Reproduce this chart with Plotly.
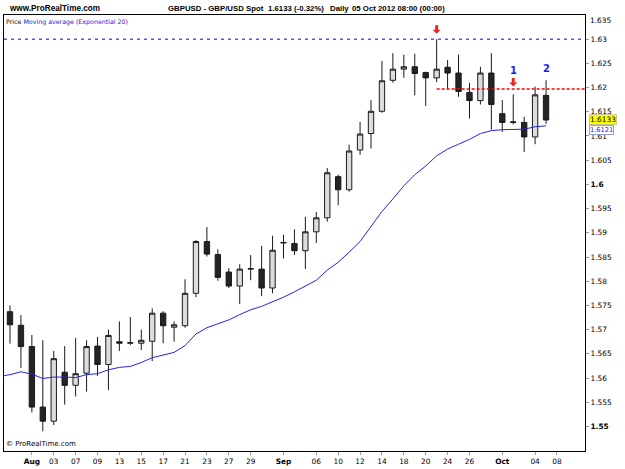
import plotly.graph_objects as go

# ---------------- data ----------------
dates = [
    "2012-07-30", "2012-07-31", "2012-08-01", "2012-08-02", "2012-08-03",
    "2012-08-06", "2012-08-07", "2012-08-08", "2012-08-09", "2012-08-10",
    "2012-08-13", "2012-08-14", "2012-08-15", "2012-08-16", "2012-08-17",
    "2012-08-20", "2012-08-21", "2012-08-22", "2012-08-23", "2012-08-24",
    "2012-08-27", "2012-08-28", "2012-08-29", "2012-08-30", "2012-08-31",
    "2012-09-03", "2012-09-04", "2012-09-05", "2012-09-06", "2012-09-07",
    "2012-09-10", "2012-09-11", "2012-09-12", "2012-09-13", "2012-09-14",
    "2012-09-17", "2012-09-18", "2012-09-19", "2012-09-20", "2012-09-21",
    "2012-09-24", "2012-09-25", "2012-09-26", "2012-09-27", "2012-09-28",
    "2012-10-01", "2012-10-02", "2012-10-03", "2012-10-04", "2012-10-05",
]
lead_dates = ["2012-07-27"]
trail_dates = ["2012-10-08", "2012-10-09", "2012-10-10"]

open_ = [1.5737, 1.5709, 1.5665, 1.5540, 1.5511, 1.5612, 1.5585, 1.5610, 1.5666, 1.5628,
         1.5675, 1.5672, 1.5672, 1.5676, 1.5734, 1.5705, 1.5708, 1.5775, 1.5882, 1.5855,
         1.5819, 1.5790, 1.5825, 1.5825, 1.5786, 1.5879, 1.5878, 1.5863, 1.5902, 1.5931,
         1.6016, 1.5989, 1.6071, 1.6105, 1.6151, 1.6215, 1.6238, 1.6243, 1.6231, 1.6220,
         1.6242, 1.6230, 1.6190, 1.6173, 1.6230, 1.6146, 1.6128, 1.6128, 1.6098, 1.6184]
high = [1.5750, 1.5730, 1.5689, 1.5678, 1.5656, 1.5666, 1.5683, 1.5678, 1.5685, 1.5700,
        1.5717, 1.5726, 1.5700, 1.5744, 1.5738, 1.5717, 1.5804, 1.5885, 1.5912, 1.5866,
        1.5827, 1.5835, 1.5854, 1.5873, 1.5894, 1.5896, 1.5907, 1.5933, 1.5943, 1.6034,
        1.6020, 1.6082, 1.6129, 1.6174, 1.6255, 1.6271, 1.6268, 1.6270, 1.6233, 1.6300,
        1.6257, 1.6268, 1.6210, 1.6243, 1.6271, 1.6174, 1.6186, 1.6140, 1.6202, 1.6215]
low = [1.5671, 1.5621, 1.5529, 1.5490, 1.5503, 1.5545, 1.5562, 1.5572, 1.5604, 1.5575,
       1.5656, 1.5668, 1.5658, 1.5635, 1.5672, 1.5675, 1.5704, 1.5767, 1.5851, 1.5801,
       1.5786, 1.5753, 1.5802, 1.5769, 1.5775, 1.5847, 1.5854, 1.5825, 1.5879, 1.5923,
       1.5957, 1.5985, 1.6061, 1.6074, 1.6148, 1.6210, 1.6220, 1.6184, 1.6162, 1.6211,
       1.6196, 1.6181, 1.6136, 1.6165, 1.6113, 1.6108, 1.6124, 1.6067, 1.6083, 1.6125]
close = [1.5710, 1.5665, 1.5540, 1.5511, 1.5640, 1.5585, 1.5609, 1.5665, 1.5628, 1.5688,
         1.5672, 1.5673, 1.5678, 1.5734, 1.5708, 1.5710, 1.5775, 1.5882, 1.5856, 1.5808,
         1.5790, 1.5825, 1.5826, 1.5786, 1.5864, 1.5880, 1.5863, 1.5902, 1.5931, 1.6024,
         1.5989, 1.6069, 1.6104, 1.6151, 1.6214, 1.6238, 1.6243, 1.6229, 1.6220, 1.6238,
         1.6230, 1.6192, 1.6173, 1.6230, 1.6165, 1.6128, 1.6129, 1.6098, 1.6185, 1.6133]

# EMA(20) (first value belongs to 2012-07-27)
ema20 = [1.5603,
         1.5607, 1.5613, 1.5608, 1.5599, 1.5602, 1.5602, 1.5601, 1.5607, 1.5609, 1.5617,
         1.5622, 1.5624, 1.5632, 1.5642, 1.5647, 1.5653, 1.5667, 1.5691, 1.5704, 1.5712,
         1.5720, 1.5731, 1.5741, 1.5748, 1.5757, 1.5767, 1.5778, 1.5790, 1.5802, 1.5823,
         1.5839, 1.5860, 1.5882, 1.5913, 1.5944, 1.5970, 1.5997, 1.6020, 1.6038, 1.6059,
         1.6073, 1.6083, 1.6093, 1.6105, 1.6111, 1.6113, 1.6113, 1.6114, 1.6119, 1.6121]

x_tick_dates = ["2012-08-01", "2012-08-03", "2012-08-07", "2012-08-09", "2012-08-13",
                "2012-08-15", "2012-08-17", "2012-08-21", "2012-08-23", "2012-08-27",
                "2012-08-29", "2012-09-03", "2012-09-06", "2012-09-10", "2012-09-12",
                "2012-09-14", "2012-09-18", "2012-09-20", "2012-09-24", "2012-09-26",
                "2012-10-01", "2012-10-04", "2012-10-08"]
x_tick_labels = ["<b>Aug</b>", "03", "07", "09", "13", "15", "17", "21", "23", "27", "29",
                 "<b>Sep</b>", "06", "10", "12", "14", "18", "20", "24", "26",
                 "<b>Oct</b>", "04", "08"]

y_tick_vals = [1.55, 1.555, 1.56, 1.565, 1.57, 1.575, 1.58, 1.585, 1.59, 1.595,
               1.60, 1.605, 1.61, 1.615, 1.62, 1.625, 1.63]
y_tick_labels = ["<b>1.55</b>", "1.555", "1.56", "1.565", "1.57", "1.575", "1.58", "1.585",
                 "1.59", "1.595", "<b>1.6</b>", "1.605", "1.61", "1.615", "1.62", "1.625",
                 "1.63"]
y_top_label = "1.635"

resistance_high = 1.6300
red_level = 1.6197
last_price = 1.6133
last_ema = 1.6121

arrow_dates = ["2012-09-21", "2012-10-02"]
arrow_tips = [1.6311, 1.6202]
wave_dates = ["2012-10-02", "2012-10-05"]
wave_levels = [1.6236, 1.6239]
wave_labels = ["1", "2"]

# ---------------- figure ----------------
categories = lead_dates + dates + trail_dates
ma_dates = lead_dates + dates

TICK_FONT = "DejaVu Sans"
HEAD_FONT = "Liberation Sans, Arial"

fig = go.Figure()
fig.add_trace(go.Candlestick(
    x=dates, open=open_, high=high, low=low, close=close,
    increasing=dict(fillcolor="#dcdcdc", line=dict(color="#1a1a1a", width=1)),
    decreasing=dict(fillcolor="#242424", line=dict(color="#1a1a1a", width=1)),
    whiskerwidth=0, showlegend=False, hoverinfo="skip",
))
fig.add_trace(go.Scatter(
    x=ma_dates, y=ema20, mode="lines",
    line=dict(color="#2424e6", width=1), showlegend=False, hoverinfo="skip",
))

x_lo = 0.4525
x_hi = 53.56

fig.update_layout(
    width=625, height=469,
    margin=dict(l=3, r=40, t=15, b=15),
    paper_bgcolor="white", plot_bgcolor="white",
    showlegend=False,
    xaxis=dict(
        type="category", categoryorder="array", categoryarray=categories,
        range=[x_lo, x_hi], rangeslider=dict(visible=False),
        tickmode="array", tickvals=x_tick_dates, ticktext=x_tick_labels,
        ticks="outside", ticklen=3, tickcolor="#9a9a9a", tickwidth=1,
        tickfont=dict(family=TICK_FONT, size=7.4, color="black"),
        showgrid=False, zeroline=False,
        showline=True, linecolor="black", linewidth=1, mirror=True,
    ),
    yaxis=dict(
        side="right", range=[1.54493, 1.63499],
        tickmode="array", tickvals=y_tick_vals, ticktext=y_tick_labels,
        ticks="outside", ticklen=3, tickcolor="#9a9a9a", tickwidth=1,
        tickfont=dict(family=TICK_FONT, size=7.4, color="black"),
        showgrid=False, zeroline=False,
        showline=True, linecolor="black", linewidth=1, mirror=True,
    ),
)

# top axis label (sits just inside the top edge, like the original)
fig.add_annotation(xref="paper", yref="paper", x=1, y=1, xanchor="left", yanchor="middle",
                   xshift=3, yshift=-5, showarrow=False, text=y_top_label,
                   font=dict(family=TICK_FONT, size=7.4, color="black"))

# horizontal levels
fig.add_shape(type="line", xref="paper", x0=0, x1=1, yref="y",
              y0=resistance_high, y1=resistance_high,
              line=dict(color="#0000ee", width=1, dash="3px,4px"))
fig.add_shape(type="line", xref="x", x0=categories.index("2012-09-21"), x1=x_hi, yref="y",
              y0=red_level, y1=red_level,
              line=dict(color="#ff0000", width=1.5, dash="3px,2px"))

# header texts
fig.add_annotation(xref="paper", yref="paper", x=0, y=1, xanchor="left", yanchor="bottom",
                   xshift=3, yshift=0, showarrow=False,
                   text="<b>www.ProRealTime.com</b>",
                   font=dict(family=HEAD_FONT, size=8.2, color="black"))
for txt, px in [("GBPUSD - GBP/USD Spot", 165), ("1.6133 (-0.32%)", 265),
                ("Daily", 328), ("05 Oct 2012 08:00 (00:00)", 350)]:
    fig.add_annotation(xref="paper", yref="paper", x=(px - 3) / 582, y=1,
                       xanchor="left", yanchor="bottom", showarrow=False,
                       text="<b>" + txt + "</b>",
                       font=dict(family=HEAD_FONT, size=7.8, color="black"))

# legend line
fig.add_annotation(xref="paper", yref="paper", x=0, y=1, xanchor="left", yanchor="top",
                   xshift=0, yshift=-1, showarrow=False,
                   text="Price <span style='color:#2020e0'>Moving average (Exponential 20)</span>",
                   font=dict(family=TICK_FONT, size=6.3, color="black"))

# copyright
fig.add_annotation(xref="paper", yref="paper", x=0, y=0, xanchor="left", yanchor="bottom",
                   xshift=0, yshift=1, showarrow=False, text="© ProRealTime.com",
                   font=dict(family=TICK_FONT, size=7, color="black"))

# red arrows (pixel-sized path anchored at the data point)
arrow_path = "M 0 0 L -4 4 L -1.5 4 L -1.5 8.5 L 1.5 8.5 L 1.5 4 L 4 4 Z"
for d, tip in zip(arrow_dates, arrow_tips):
    fig.add_shape(type="path", xref="x", yref="y",
                  xsizemode="pixel", ysizemode="pixel",
                  xanchor=d, yanchor=tip, path=arrow_path,
                  fillcolor="#e8261c", line=dict(width=0))

# wave labels
for d, lv, lab in zip(wave_dates, wave_levels, wave_labels):
    fig.add_annotation(x=d, y=lv, xref="x", yref="y", text="<b>" + lab + "</b>",
                       showarrow=False, font=dict(family=TICK_FONT, size=10, color="#1a1aff"))

# price labels on the right axis (EMA label partly tucked under the price label)
fig.add_annotation(xref="paper", x=1, yref="y", y=last_ema, xanchor="left", xshift=4,
                   yshift=-4.5, showarrow=False, text=f"{last_ema:.4f}",
                   bgcolor="white", bordercolor="#8f9fd0", borderwidth=1, borderpad=0,
                   font=dict(family=TICK_FONT, size=6.6, color="#1a1aff"))
fig.add_annotation(xref="paper", x=1, yref="y", y=last_price, xanchor="left", xshift=4,
                   yshift=1, showarrow=False, text=f"{last_price:.4f}",
                   bgcolor="#ffff00", bordercolor="#c8c890", borderwidth=1, borderpad=0,
                   font=dict(family=TICK_FONT, size=7.4, color="black"))

fig.write_html("out.html")
